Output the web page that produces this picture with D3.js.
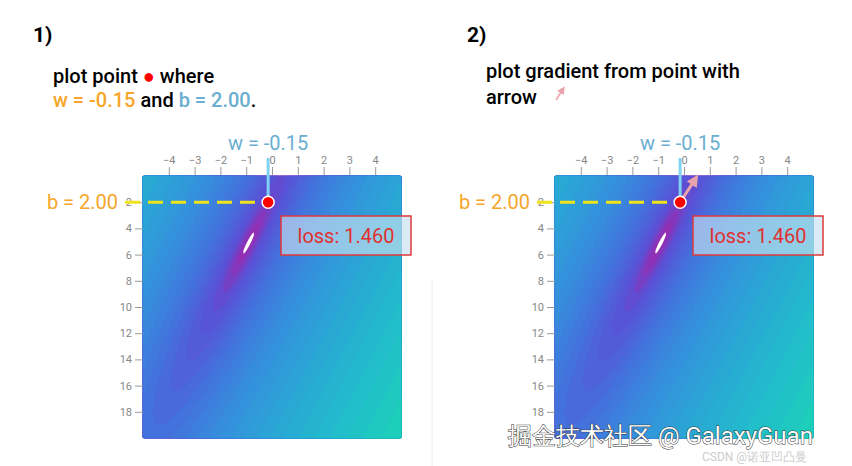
<!DOCTYPE html><html><head><meta charset="utf-8">
<script src="https://cdn.jsdelivr.net/npm/d3@7"></script>
<style>body{margin:0;background:#fff}text{font-family:Roboto,"Noto Sans",sans-serif}</style></head><body>
<svg id="c" width="852" height="466"></svg>
<script>
const xData=[1.5,2.5,3,4,4.5,5.5];
const yData=[3.8,3.2,1.8,1.4,1.5,0.0];
const wTicks=[-4,-3,-2,-1,0,1,2,3,4];
const bTicks=[2,4,6,8,10,12,14,16,18];
const pointW=-0.15, pointB=2.00, lossText="loss: 1.460";
const gradVec=[0.6,1.8];
const palette=["#9a2cb0","#5a50d6","#4470dc","#368ddc","#2aa5d6","#22bccb","#1cd4b6"];

const svg=d3.select("#c");
const N=160;
function loss(w,b){let s=0;for(let i=0;i<xData.length;i++){const e=w*xData[i]+b-yData[i];s+=e*e;}return s/xData.length;}
const grid=new Array(N*N);let mn=Infinity,mx=-Infinity;
for(let j=0;j<N;j++)for(let i=0;i<N;i++){const w=-5+10*(i+0.5)/N,b=20*(j+0.5)/N;const v=Math.pow(loss(w,b),0.4);grid[j*N+i]=v;if(v<mn)mn=v;mx=Math.max(mx,v);}
const P=1.6;
const col=d3.scaleLinear().domain(d3.range(palette.length).map(k=>mn+(mx-mn)*Math.pow(k/(palette.length-1),P))).range(palette).interpolate(d3.interpolateRgb);
const thr=d3.range(0,26).map(k=>mn+(mx-mn)*Math.pow(k/26,P));

function panel(ox,second){
  const x=d3.scaleLinear().domain([-5,5]).range([ox,ox+258]);
  const y=d3.scaleLinear().domain([0,20]).range([176,438]);
  const g=svg.append("g");
  const tr=d3.geoTransform({point:function(px,py){this.stream.point(x(-5+10*px/N),y(20*py/N));}});
  const path=d3.geoPath(tr);
  const cs=d3.contours().size([N,N]).thresholds(thr)(grid);
  g.selectAll("path.c").data(cs).join("path").attr("d",path).attr("fill",d=>col(d.value)).attr("stroke",d=>col(d.value)).attr("stroke-width",0.5);
  const wc=d3.contours().size([N,N]).thresholds([-(mn+0.1)])(grid.map(v=>-v))[0];
  g.append("path").datum(wc).attr("d",path).attr("fill","#fff");
  const ax=svg.append("g").attr("transform","translate(0,175)").call(d3.axisTop(x).tickValues(wTicks).tickSize(8).tickFormat(d3.format("d")));
  const ay=svg.append("g").attr("transform",`translate(${ox},0)`).call(d3.axisLeft(y).tickValues(bTicks).tickSize(8));
  [ax,ay].forEach(a=>{a.select(".domain").remove();a.selectAll("line").attr("stroke","#999");a.selectAll("text").attr("fill","#888").style("font-size","11px");});
  const px=x(pointW),py=y(pointB);
  svg.append("line").attr("x1",px).attr("x2",px).attr("y1",158).attr("y2",py).attr("stroke","#7fd3f2").attr("stroke-width",3);
  svg.append("line").attr("x1",ox-18).attr("x2",px).attr("y1",py).attr("y2",py).attr("stroke","#f0e31a").attr("stroke-width",3).attr("stroke-dasharray","15,8");
  svg.append("text").attr("x",px).attr("y",150).attr("text-anchor","middle").attr("fill","#6aaed0").style("font-size","20px").text("w = "+pointW.toFixed(2));
  svg.append("text").attr("x",ox-25).attr("y",209).attr("text-anchor","end").attr("fill","#f5a62a").style("font-size","20px").text("b = "+pointB.toFixed(2));
  if(second){
    const ex=px+gradVec[0]*(x(1)-x(0)), ey=py-gradVec[1]*(y(1)-y(0));
    svg.append("line").attr("x1",px).attr("y1",py).attr("x2",ex).attr("y2",ey).attr("stroke","#e8a4ac").attr("stroke-width",3).attr("marker-end","url(#ah)");
  }
  svg.append("circle").attr("cx",px).attr("cy",py).attr("r",6).attr("fill","#f00").attr("stroke","#fff").attr("stroke-width",1.5);
  svg.append("rect").attr("x",ox+138).attr("y",216).attr("width",130).attr("height",39).attr("fill","rgba(200,225,240,0.65)").attr("stroke","#e03a3a").attr("stroke-width",1.5);
  svg.append("text").attr("x",ox+203).attr("y",243).attr("text-anchor","middle").attr("fill","#e03030").style("font-size","20px").text(lossText);
}
svg.append("defs").append("marker").attr("id","ah").attr("viewBox","0 0 10 10").attr("refX",6).attr("refY",5).attr("markerWidth",4).attr("markerHeight",4).attr("orient","auto").append("path").attr("d","M0,0L10,5L0,10z").attr("fill","#e8a4ac");
svg.append("line").attr("x1",432).attr("x2",432).attr("y1",280).attr("y2",466).attr("stroke","#eee");
panel(143,false);panel(555,true);

const F="20px", W="500";
svg.append("text").attr("x",33).attr("y",42).style("font-size","21px").style("font-weight","bold").text("1)");
const t1=svg.append("text").attr("x",53).attr("y",83).style("font-size",F).style("font-weight",W);
t1.append("tspan").text("plot point ");t1.append("tspan").attr("fill","#f00").text("●");t1.append("tspan").text(" where");
const t2=svg.append("text").attr("x",53).attr("y",107).style("font-size",F).style("font-weight",W);
t2.append("tspan").attr("fill","#f5a62a").text("w = -0.15");t2.append("tspan").text(" and ");t2.append("tspan").attr("fill","#6aaed0").text("b = 2.00");t2.append("tspan").text(".");
svg.append("text").attr("x",467).attr("y",42).style("font-size","21px").style("font-weight","bold").text("2)");
svg.append("text").attr("x",486).attr("y",78).style("font-size",F).style("font-weight",W).text("plot gradient from point with");
svg.append("text").attr("x",486).attr("y",104).style("font-size",F).style("font-weight",W).text("arrow");
svg.append("line").attr("x1",556).attr("y1",100).attr("x2",563).attr("y2",89).attr("stroke","#f0b0b8").attr("stroke-width",2).attr("marker-end","url(#ah)");
svg.append("text").attr("x",508).attr("y",444).attr("fill","#fff").attr("stroke","#333").attr("stroke-width",1).attr("paint-order","stroke").style("font-size","24px").text("掘金技术社区 @ GalaxyGuan");
svg.append("text").attr("x",702).attr("y",461).attr("fill","#ccc").style("font-size","12px").text("CSDN @诺亚凹凸曼");
</script></body></html>
